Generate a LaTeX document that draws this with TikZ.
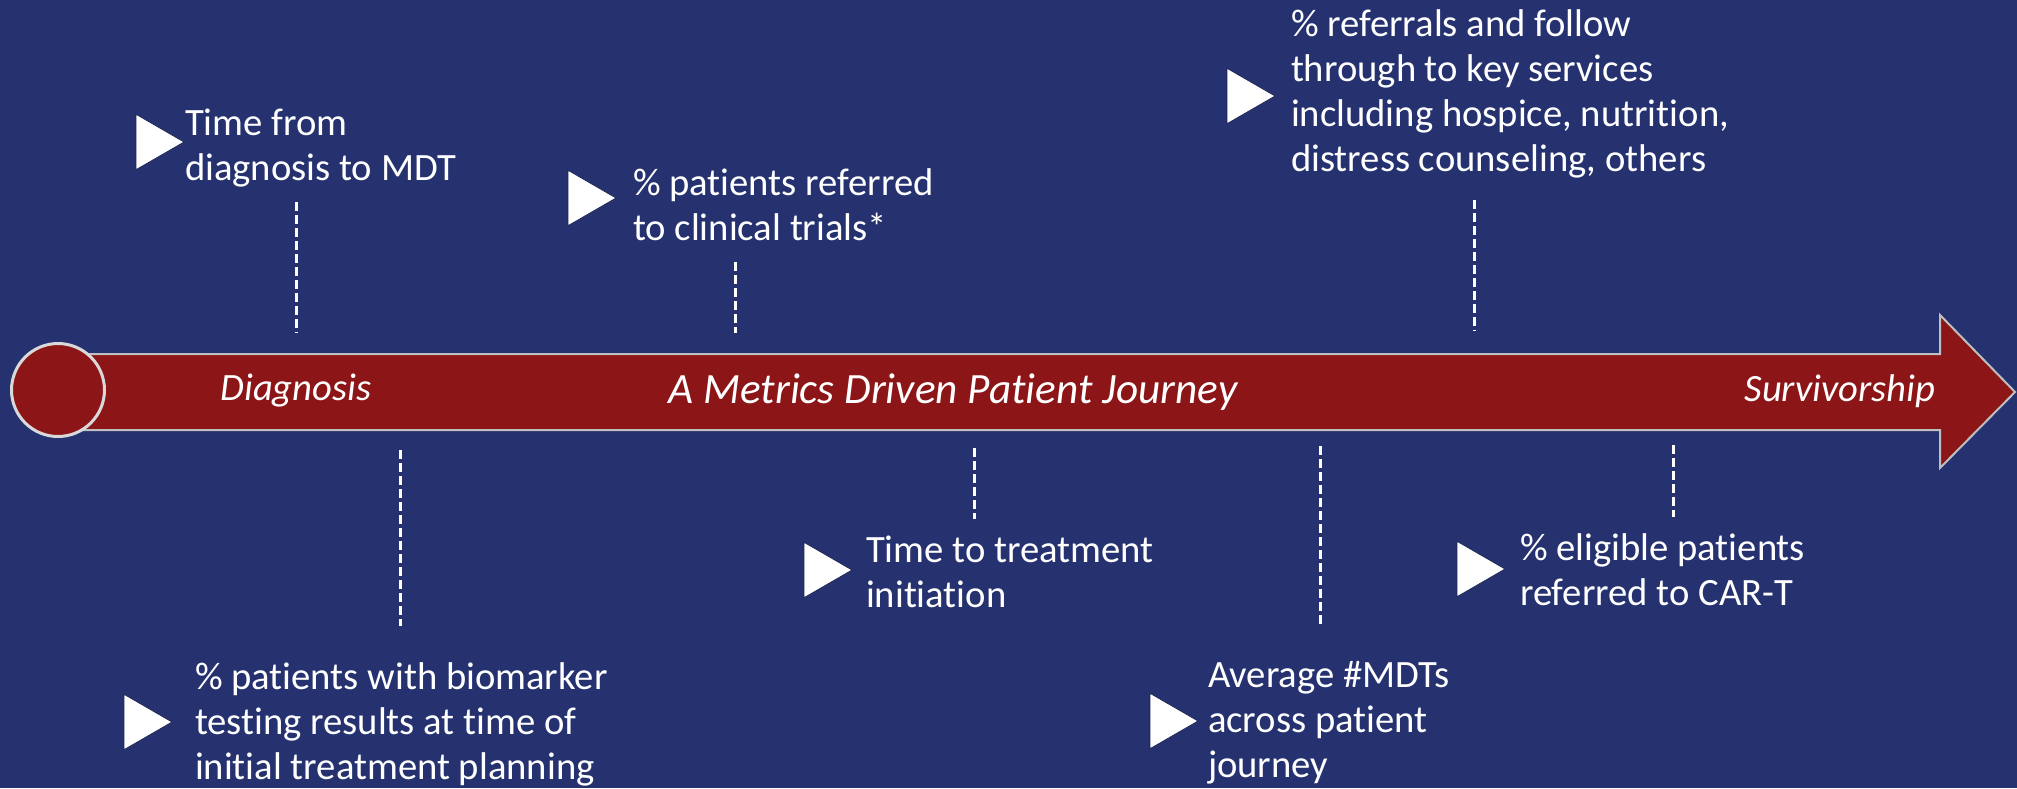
\documentclass[tikz,border=0pt]{standalone}
\usepackage{fontspec}
\setmainfont{Carlito}[Ligatures=NoCommon]
\usetikzlibrary{shapes.geometric}
\definecolor{pagebg}{HTML}{263270}
\definecolor{bandred}{HTML}{8B1517}
\definecolor{rimgray}{HTML}{BFBFBF}
\tikzset{
	metric/.style={anchor=west,align=left,inner sep=0,outer sep=0,text=white,font=\fontsize{22}{25.6}\selectfont},
	pointer/.style={isosceles triangle,isosceles triangle apex angle=60,fill=white,draw=pagebg!70!black,line width=0.4pt,inner sep=0,outer sep=0,minimum height=0.96cm},
	stage/.style={text=white,inner sep=0,outer sep=0,font=\fontsize{22}{25.6}\selectfont\itshape},
	guide/.style={white,line width=0.06cm,dash pattern=on 0.18cm off 0.08cm}
}

\begin{document}
\begin{tikzpicture}[x=0.02cm,y=-0.02cm]
	\useasboundingbox (0,0) rectangle (2017,788);
	\fill[pagebg] (0,0) rectangle (2017,788);
	\draw[fill=bandred,draw=rimgray,line width=0.04cm] (58,354) -- (1940,354) -- (1940,315) -- (2015,392) -- (1940,468) -- (1940,430) -- (58,430) -- cycle;
	\node[circle,fill=bandred,draw=rimgray!60!white,line width=0.06cm,inner sep=0,minimum size=1.86cm] (start) at (58,390) {};
	\node[stage] (diag) at (296,391) {Diagnosis};
	\node[stage,font=\fontsize{24.6}{28}\selectfont\itshape] (title) at (953,392) {A Metrics Driven Patient Journey};
	\node[stage] (surv) at (1840,391) {Survivorship};

	\node[pointer] (p1) at (152,142) {};
	\node[metric] (t1) at (185,148) {Time from\\diagnosis to MDT};
	\node[pointer] (p2) at (584,198) {};
	\node[metric] (t2) at (633,205) {\% patients referred\\to clinical trials*};
	\node[pointer] (p3) at (1243,96) {};
	\node[metric] (t3) at (1291,94) {\% referrals and follow\\through to key services\\including hospice, nutrition,\\distress counseling, others};
	\node[pointer] (p4) at (140,722) {};
	\node[metric] (t4) at (195,724) {\% patients with biomarker\\testing results at time of\\initial treatment planning};
	\node[pointer] (p5) at (820,570) {};
	\node[metric] (t5) at (866,572) {Time to treatment\\initiation};
	\node[pointer] (p6) at (1166,721) {};
	\node[metric] (t6) at (1208,723) {Average \#MDTs\\across patient\\journey};
	\node[pointer] (p7) at (1473,569) {};
	\node[metric] (t7) at (1520,570) {\% eligible patients\\referred to CAR-T};

	\coordinate (a1) at (296,202);
	\coordinate (b1) at (296,332);
	\coordinate (a2) at (735,262);
	\coordinate (b2) at (735,333);
	\coordinate (a3) at (1474,200);
	\coordinate (b3) at (1474,331);
	\coordinate (a4) at (400,450);
	\coordinate (b4) at (400,626);
	\coordinate (a5) at (974,448);
	\coordinate (b5) at (974,519);
	\coordinate (a6) at (1320,446);
	\coordinate (b6) at (1320,624);
	\coordinate (a7) at (1673,445);
	\coordinate (b7) at (1673,517);
	\draw[guide] (a1) -- (b1);
	\draw[guide] (a2) -- (b2);
	\draw[guide] (a3) -- (b3);
	\draw[guide] (a4) -- (b4);
	\draw[guide] (a5) -- (b5);
	\draw[guide] (a6) -- (b6);
	\draw[guide] (a7) -- (b7);
\end{tikzpicture}
\end{document}
